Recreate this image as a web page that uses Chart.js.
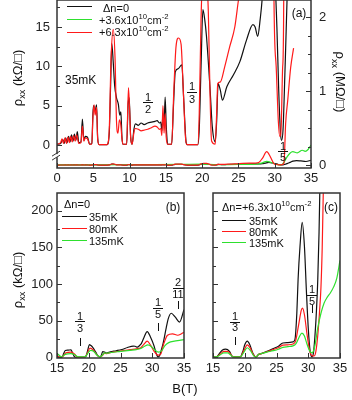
<!DOCTYPE html>
<html>
<head>
<meta charset="utf-8">
<script src="https://cdn.jsdelivr.net/npm/chart.js@4.4.1/dist/chart.umd.min.js"></script>
<style>
  body { margin: 0; background: #fff; }
  #fig { position: relative; width: 352px; height: 400px; overflow: hidden;
         font-family: 'Liberation Sans', Arial, sans-serif; color: #111; background: #fff; }
  canvas { position: absolute; }
  .t { position: absolute; white-space: nowrap; line-height: 1; transform: translate(-50%, -50%); }
  .l { position: absolute; white-space: nowrap; line-height: 1; transform: translateY(-50%); }
  .ru { transform: translate(-50%, -50%) rotate(-90deg); }
  .rd { transform: translate(-50%, -50%) rotate(90deg); }
  sub, sup { font-size: 70%; line-height: 0; }
  .sw { position: absolute; height: 0; border-top: 1.5px solid; }
  .bar { position: absolute; height: 0; border-top: 1px solid #111; }
  .tick { position: absolute; width: 0; border-left: 1px solid #111; }
</style>
</head>
<body>
<div id="fig">
  <canvas id="ca" width="352" height="190" style="left:0;top:0"></canvas>
  <canvas id="cb" width="200" height="200" style="left:0;top:180px"></canvas>
  <canvas id="cc" width="162" height="200" style="left:190px;top:180px"></canvas>
</div>
<script>
// ---- panel (a): 35 mK, three densities ----
// Δn = 0 (also the 35 mK curve of panel b), B in T, ρxx in kΩ/□
const bN0 = [0, 0.5, 0.8, 1.0, 1.2, 1.4, 1.6, 1.8, 2.0, 2.2, 2.4, 2.6, 2.8, 3.0, 3.3, 3.5, 3.7, 3.9, 4.2, 4.5,
  4.8, 4.95, 5.05, 5.25, 5.45, 5.6, 5.8, 6.9, 7.2, 7.4, 7.55, 7.75, 7.95, 8.2, 8.45, 8.65, 8.8, 8.95, 9.1, 9.6,
  9.8, 9.95, 10.15, 10.35, 10.6, 10.8, 11.2, 11.6, 12.0, 12.5, 13.0, 13.5, 13.8, 14.1, 14.3, 14.45, 14.6, 14.75,
  14.9, 15.05, 15.25, 15.8, 16.05, 16.3, 16.7, 17.2, 17.45, 17.8, 17.95, 19.4, 19.6, 19.85, 20.1, 20.35, 20.6,
  21.1, 21.4, 21.8, 22.0, 22.2, 22.5, 22.8, 23.4, 24.3, 25.2, 26.1, 27.0, 27.3, 27.65, 28.0, 28.3, 28.7, 29.2,
  29.7, 30.3, 30.55, 30.8, 30.95, 31.15, 31.4, 31.7, 32.2, 32.5, 33.0, 33.6, 34.3, 35.0];
const rN0 = [0.1, 0.2, 0.7, 0.2, 0.9, 0.3, 1.1, 0.4, 1.3, 0.5, 1.4, 0.6, 1.7, 0.3, 0.4, 3.3, 0.6, 1.1, 1.0, 0.1,
  0.2, 4.0, 5.0, 4.3, 5.1, 1.0, 0.05, 0.05, 1.5, 8, 12.9, 10.5, 7.5, 6.0, 5.2, 3.8, 4.2, 1.0, 0.1, 0.1,
  5.2, 6.0, 1.0, 0.1, 2.0, 2.7, 2.5, 2.8, 2.6, 2.8, 2.9, 3.0, 3.1, 2.8, 2.9, 1.8, 4.0, 2.5,
  6.1, 2.5, 0.1, 0.1, 5.0, 9.3, 9.7, 10.2, 6.0, 0.3, 0.05, 0.05, 2.0, 10, 17.2, 16.0, 13.8,
  7.0, 2.3, 0.4, 3.0, 7.8, 7.0, 5.7, 7.4, 8.9, 10.6, 13.3, 15.3, 15.0, 13.8, 16, 19, 27, 35,
  28, 15, 7, 1.5, 0.6, 2, 9, 18.5, 40, 52, 60, 55, 48, 65];
// Δn = +6.3e10 cm^-2
const bN63 = [0, 0.5, 0.7, 0.9, 1.1, 1.3, 1.5, 1.7, 1.9, 2.1, 2.3, 2.5, 2.7, 3.0, 3.3, 3.5, 3.7, 3.9, 4.2, 4.5,
  4.8, 4.95, 5.1, 5.25, 5.45, 5.6, 5.8, 6.9, 7.2, 7.45, 7.75, 8.0, 8.2, 8.4, 8.6, 8.8, 8.95, 9.1, 9.6, 9.85,
  10.15, 10.35, 10.6, 10.8, 11.2, 11.6, 12.0, 12.5, 13.0, 13.5, 13.8, 14.1, 14.3, 14.45, 14.6, 14.75, 14.9,
  15.05, 15.25, 15.8, 16.1, 16.4, 16.75, 17.1, 17.4, 17.7, 17.9, 19.4, 19.6, 19.85, 20.2, 20.55, 20.85, 21.05,
  21.3, 21.8, 22.0, 22.15, 22.5, 23.1, 23.8, 24.5, 25.0, 25.6, 26.5, 27.3, 27.8, 28.3, 28.9, 29.4, 29.9, 30.2,
  30.5, 30.7, 30.9, 31.1, 31.25, 31.35, 31.5, 31.8, 32.2, 32.6];
const rN63 = [0.1, 0.3, 0.8, 0.2, 0.9, 0.2, 1.0, 0.3, 1.1, 0.4, 1.2, 0.5, 1.3, 0.2, 0.3, 2.4, 0.5, 0.9, 0.8, 0.1,
  0.1, 3.5, 5.1, 3.8, 4.8, 0.8, 0.05, 0.05, 2.0, 11, 14.7, 11, 3.0, 1.5, 3.2, 2.5, 0.8, 0.1, 0.1, 7.3,
  1.0, 0.1, 1.6, 2.1, 2.0, 1.8, 1.9, 2.0, 2.2, 2.4, 2.3, 2.0, 2.1, 1.2, 5.0, 1.5, 4.0,
  1.0, 0.1, 0.1, 7, 12.5, 13.6, 12.8, 7, 1, 0.05, 0.05, 4, 16, 24, 22, 17, 8,
  0.5, 0.1, 4, 7.8, 8.0, 9.9, 12.5, 15.0, 18.4, 22, 25, 27, 35, 90, 180, 110, 18.4, 10,
  3, 1.1, 2.5, 10, 20, 150, 550, 880, 1320, 1580];
// Δn = +3.6e10 cm^-2, only shown on the MΩ scale
const bN36 = [0, 10, 17, 20, 22, 25, 27.5, 28.3, 28.9, 29.5, 30.2, 30.9, 31.3, 31.7, 32.1, 32.5, 33.1, 33.8, 34.2, 34.6, 35];
const rN36 = [0.003, 0.004, 0.008, 0.012, 0.004, 0.008, 0.012, 0.03, 0.05, 0.035, 0.01, 0.002, 0.04, 0.11, 0.16,
  0.18, 0.165, 0.2, 0.185, 0.21, 0.27];

// ---- panel (b): Δn = 0 ----
const bB80 = [15, 15.4, 15.8, 16.4, 17.2, 17.8, 18.2, 19.4, 19.8, 20.2, 20.7, 21.3, 21.8, 22.2, 22.5, 22.8, 23.5,
  25, 26.5, 27.5, 28.2, 28.7, 29.2, 29.7, 30.3, 30.9, 31.3, 31.8, 32.4, 33.2, 34.0, 34.6, 35];
const rB80 = [2, 0.3, 0.5, 6, 7, 4, 0.3, 0.3, 6, 12.5, 10, 3, 0.3, 3, 5.5, 5, 6.5,
  8.5, 10.5, 11.5, 13, 18, 22, 17, 8, 3, 4, 18, 30, 32, 30, 32, 34];
const bB135 = [15, 15.3, 15.7, 16.3, 17.2, 17.8, 18.3, 19.4, 19.9, 20.3, 20.8, 21.3, 21.8, 22.2, 22.5, 22.8, 23.5,
  25, 26.5, 27.5, 28.2, 28.8, 29.3, 29.8, 30.4, 31.0, 31.5, 32.0, 32.6, 33.5, 34.3, 35];
const rB135 = [5, 3, 0.5, 4, 5, 3.5, 0.5, 0.5, 6, 9.5, 8, 3, 0.5, 3.5, 6, 5.5, 6.5,
  8, 9.5, 10.5, 12, 15, 17, 15, 10, 7, 9, 16, 20, 22, 23, 24];

// ---- panel (c): Δn = +6.3e10 cm^-2 ----
const bC35 = [15, 15.5, 16.0, 16.5, 17.0, 17.6, 18.1, 19.3, 19.7, 20.0, 20.4, 20.8, 21.3, 21.75, 22.2, 22.6, 23.5,
  24.5, 25.3, 26.0, 26.8, 27.6, 27.9, 28.2, 28.4, 28.7, 29.05, 29.4, 29.7, 30.0, 30.3, 30.6, 30.85, 31.1, 31.3,
  31.5, 31.7, 31.85];
const rC35 = [1, 0.3, 5, 10, 11, 8, 0.5, 0.5, 8, 17, 22, 17, 5, 0.3, 4, 5, 8,
  12, 15, 19.5, 20, 21, 24, 60, 106, 151, 184, 151, 92, 40, 8, 0.5, 8, 35, 65,
  106, 170, 240];
const bC80 = [15, 15.5, 16.1, 16.7, 17.3, 17.8, 18.2, 19.3, 19.8, 20.4, 20.9, 21.4, 21.75, 22.2, 22.6, 23.5, 24.5,
  25.3, 26.0, 26.8, 27.6, 28.0, 28.5, 28.9, 29.1, 29.4, 29.8, 30.2, 30.6, 30.95, 31.2, 31.5, 31.8, 32.0, 32.2, 32.4];
const rC80 = [0.5, 0.3, 4, 8, 8, 4, 0.5, 0.5, 8, 17, 12, 3, 0.5, 4, 5, 7.5, 10.5,
  13, 16.5, 17, 18, 22, 45, 64, 67, 58, 32, 10, 2, 2, 8, 30, 65, 95, 150, 240];
const bC135 = [15, 15.5, 16.1, 16.7, 17.3, 17.8, 18.2, 19.3, 19.8, 20.4, 20.9, 21.4, 21.75, 22.2, 22.6, 23.5, 24.5,
  25.3, 26.0, 26.8, 27.6, 28.1, 28.6, 29.0, 29.4, 29.8, 30.2, 30.6, 31.0, 31.5, 32.0, 32.5, 33.0, 33.5, 34.0,
  34.5, 35.0];
const rC135 = [0.5, 0.5, 3, 6, 6, 3, 0.5, 0.5, 6, 13, 9, 2, 0.5, 4, 5, 7, 9,
  11, 13.5, 14.5, 15.5, 19, 28, 33, 29, 18, 9, 6, 14, 40, 60, 74, 82, 88, 96,
  108, 132];

// ---- tick values ----
const aBTicks = [0, 5, 10, 15, 20, 25, 30, 35];
const aKTicks = [0, 5, 10, 15];
const aKMinor = [2.5, 7.5, 12.5, 17.5];
const aMTicks = [0, 1, 2];
const aMMinor = [0.25, 0.5, 0.75, 1.25, 1.5, 1.75, 2.25];
const bcBTicks = [15, 20, 25, 30, 35];
const bcRTicks = [0, 50, 100, 150, 200];
const bcRMinor = [25, 75, 125, 175];

const BLACK = '#111', RED = '#ff1a1a', GREEN = '#2ee02e';
Chart.defaults.font.family = "'Liberation Sans', Arial, sans-serif";
Chart.defaults.color = '#222';

function pts(xs, ys, k = 1) {
  return xs.map((x, i) => ({ x, y: ys[i] * k }));
}

function curve(data, color, axis, order) {
  return { data, borderColor: color, borderWidth: 1.2, pointRadius: 0, fill: false,
    cubicInterpolationMode: 'monotone', yAxisID: axis, order };
}

function axis(pos, min, max, major, minor, size, pad, labels = true) {
  const horiz = pos === 'bottom';
  return {
    type: 'linear', position: pos, min, max,
    grid: { display: false, drawTicks: false },
    border: { display: false },
    ticks: { display: labels, padding: pad, autoSkip: false, maxRotation: 0, font: { size: 13 },
      callback: (v, i, ticks) => (ticks[i].major ? String(v) : '') },
    afterBuildTicks: s => {
      s.ticks = major.map(v => ({ value: v, major: true }))
        .concat(minor.map(v => ({ value: v, major: false })))
        .sort((p, q) => p.value - q.value);
    },
    afterFit: s => {
      if (horiz) s.height = size; else s.width = size;
      s.paddingLeft = s.paddingRight = s.paddingTop = s.paddingBottom = 0;
    }
  };
}

// inward tick marks and the box around each plot
const frameTicks = {
  id: 'frameTicks',
  afterDraw(chart) {
    const { ctx, chartArea: a } = chart;
    ctx.save();
    ctx.strokeStyle = '#333';
    ctx.lineWidth = 1;
    Object.values(chart.scales).forEach(s => {
      s.ticks.forEach(t => {
        const len = t.major ? 5 : 3;
        const p = Math.round(s.getPixelForValue(t.value)) + 0.5;
        ctx.beginPath();
        if (s.position === 'left') { ctx.moveTo(a.left, p); ctx.lineTo(a.left + len, p); }
        else if (s.position === 'right') { ctx.moveTo(a.right, p); ctx.lineTo(a.right - len, p); }
        else { ctx.moveTo(p, a.bottom); ctx.lineTo(p, a.bottom - len); }
        ctx.stroke();
      });
    });
    ctx.lineWidth = 1.5;
    ctx.strokeRect(a.left, a.top, a.right - a.left, a.bottom - a.top);
    ctx.restore();
  }
};

// the "//" break on the left axis of panel (a)
const axisBreak = {
  id: 'axisBreak',
  afterDraw(chart) {
    const { ctx, chartArea: a } = chart;
    const y = chart.scales.y.getPixelForValue(-1.35);
    ctx.save();
    ctx.fillStyle = '#fff';
    ctx.fillRect(a.left - 2, y - 1.5, 4, 3);
    ctx.strokeStyle = '#333';
    ctx.lineWidth = 1;
    ctx.beginPath();
    ctx.moveTo(a.left - 5, y + 0.5); ctx.lineTo(a.left + 3, y - 4.5);
    ctx.moveTo(a.left - 5, y + 4.5); ctx.lineTo(a.left + 3, y - 0.5);
    ctx.stroke();
    ctx.restore();
  }
};

const common = { responsive: false, animation: false, devicePixelRatio: 1,
  plugins: { legend: { display: false }, tooltip: { enabled: false } } };

new Chart(document.getElementById('ca'), {
  type: 'line',
  data: { datasets: [
    curve(pts(bN63, rN63), RED, 'y', 1),
    curve(pts(bN0, rN0), BLACK, 'y', 2),
    curve(pts(bN63, rN63, 0.001), RED, 'y2', 3),
    curve(pts(bN36, rN36), GREEN, 'y2', 4),
    curve(pts(bN0, rN0, 0.001), BLACK, 'y2', 5)
  ] },
  options: { ...common,
    layout: { padding: 0 },
    scales: {
      x: axis('bottom', 0, 35, aBTicks, [], 22, 3),
      y: axis('left', -2.92, 18.43, aKTicks, aKMinor, 57, 7),
      y2: axis('right', -0.04, 2.23, aMTicks, aMMinor, 41, 8)
    } },
  plugins: [frameTicks, axisBreak]
});

new Chart(document.getElementById('cb'), {
  type: 'line',
  data: { datasets: [
    curve(pts(bB135, rB135), GREEN, 'y', 1),
    curve(pts(bB80, rB80), RED, 'y', 2),
    curve(pts(bN0, rN0).filter(p => p.x >= 15), BLACK, 'y', 3)
  ] },
  options: { ...common,
    layout: { padding: { top: 13, right: 16, left: 0, bottom: 0 } },
    scales: {
      x: axis('bottom', 15, 35, bcBTicks, [], 22, 3),
      y: axis('left', -1, 224, bcRTicks, bcRMinor, 57, 4)
    } },
  plugins: [frameTicks]
});

new Chart(document.getElementById('cc'), {
  type: 'line',
  data: { datasets: [
    curve(pts(bC135, rC135), GREEN, 'y', 1),
    curve(pts(bC80, rC80), RED, 'y', 2),
    curve(pts(bC35, rC35), BLACK, 'y', 3)
  ] },
  options: { ...common,
    layout: { padding: { top: 13, right: 12, left: 0, bottom: 0 } },
    scales: {
      x: axis('bottom', 15, 35, bcBTicks, [], 22, 3),
      y: axis('left', -1, 224, bcRTicks, bcRMinor, 23, 4, false)
    } },
  plugins: [frameTicks]
});

// ---- text, legends and filling-factor marks ----
const fig = document.getElementById('fig');
function txt(html, x, y, size, cls = 't') {
  const d = document.createElement('div');
  d.className = cls;
  d.innerHTML = html;
  d.style.left = x + 'px';
  d.style.top = y + 'px';
  d.style.fontSize = size + 'px';
  fig.appendChild(d);
}
function swatch(x, y, w, color) {
  const d = document.createElement('div');
  d.className = 'sw';
  d.style.cssText = `left:${x}px;top:${y - 0.75}px;width:${w}px;border-color:${color}`;
  fig.appendChild(d);
}
function frac(num, den, cx, yNum, yBar, yDen, w, yTick) {
  txt(num, cx, yNum, 11);
  const b = document.createElement('div');
  b.className = 'bar';
  b.style.cssText = `left:${cx - w / 2}px;top:${yBar}px;width:${w}px`;
  fig.appendChild(b);
  txt(den, cx, yDen, 11);
  if (yTick) {
    const t = document.createElement('div');
    t.className = 'tick';
    t.style.cssText = `left:${cx}px;top:${yTick - 4}px;height:8px`;
    fig.appendChild(t);
  }
}

const rhoK = 'ρ<sub>xx</sub> (kΩ/□)';
txt(rhoK, 17, 78, 13, 't ru');
txt('ρ<sub>xx</sub> (MΩ/□)', 340, 82, 13, 't rd');
txt(rhoK, 17, 280, 13, 't ru');
txt('B(T)', 185, 388, 13);

txt('35mK', 65, 80, 12, 'l');
txt('(a)', 299, 13, 12);
swatch(67, 7, 25, BLACK);
swatch(67, 20, 25, GREEN);
swatch(67, 33, 25, RED);
txt('Δn=0', 103, 8, 11, 'l');
txt('+3.6x10<sup>10</sup>cm<sup>-2</sup>', 99, 20, 11, 'l');
txt('+6.3x10<sup>10</sup>cm<sup>-2</sup>', 99, 32, 11, 'l');
frac('1', '2', 148, 97, 102, 109, 10);
frac('1', '3', 192, 86, 92, 99, 10);
frac('1', '5', 283, 146, 151, 157, 10);

txt('Δn=0', 64, 204, 11, 'l');
txt('(b)', 173, 207, 12);
swatch(62, 217, 25, BLACK);
swatch(62, 229, 25, RED);
swatch(62, 241, 25, GREEN);
txt('35mK', 89, 217, 11, 'l');
txt('80mK', 89, 229, 11, 'l');
txt('135mK', 89, 241, 11, 'l');
frac('1', '3', 80, 316, 321, 328, 10, 342);
frac('1', '5', 158, 302, 308, 314, 10, 327);
frac('2', '11', 178, 282, 288, 294, 11, 305);

txt('Δn=+6.3x10<sup>10</sup>cm<sup>-2</sup>', 222, 207, 11, 'l');
txt('(c)', 331, 207, 12);
swatch(222, 221, 24, BLACK);
swatch(222, 232, 24, RED);
swatch(222, 243, 24, GREEN);
txt('35mK', 249, 221, 11, 'l');
txt('80mK', 249, 232, 11, 'l');
txt('135mK', 249, 243, 11, 'l');
frac('1', '3', 235, 316, 322, 327, 10, 341);
frac('1', '5', 312, 289, 295, 301, 10, 309);
</script>
</body>
</html>
